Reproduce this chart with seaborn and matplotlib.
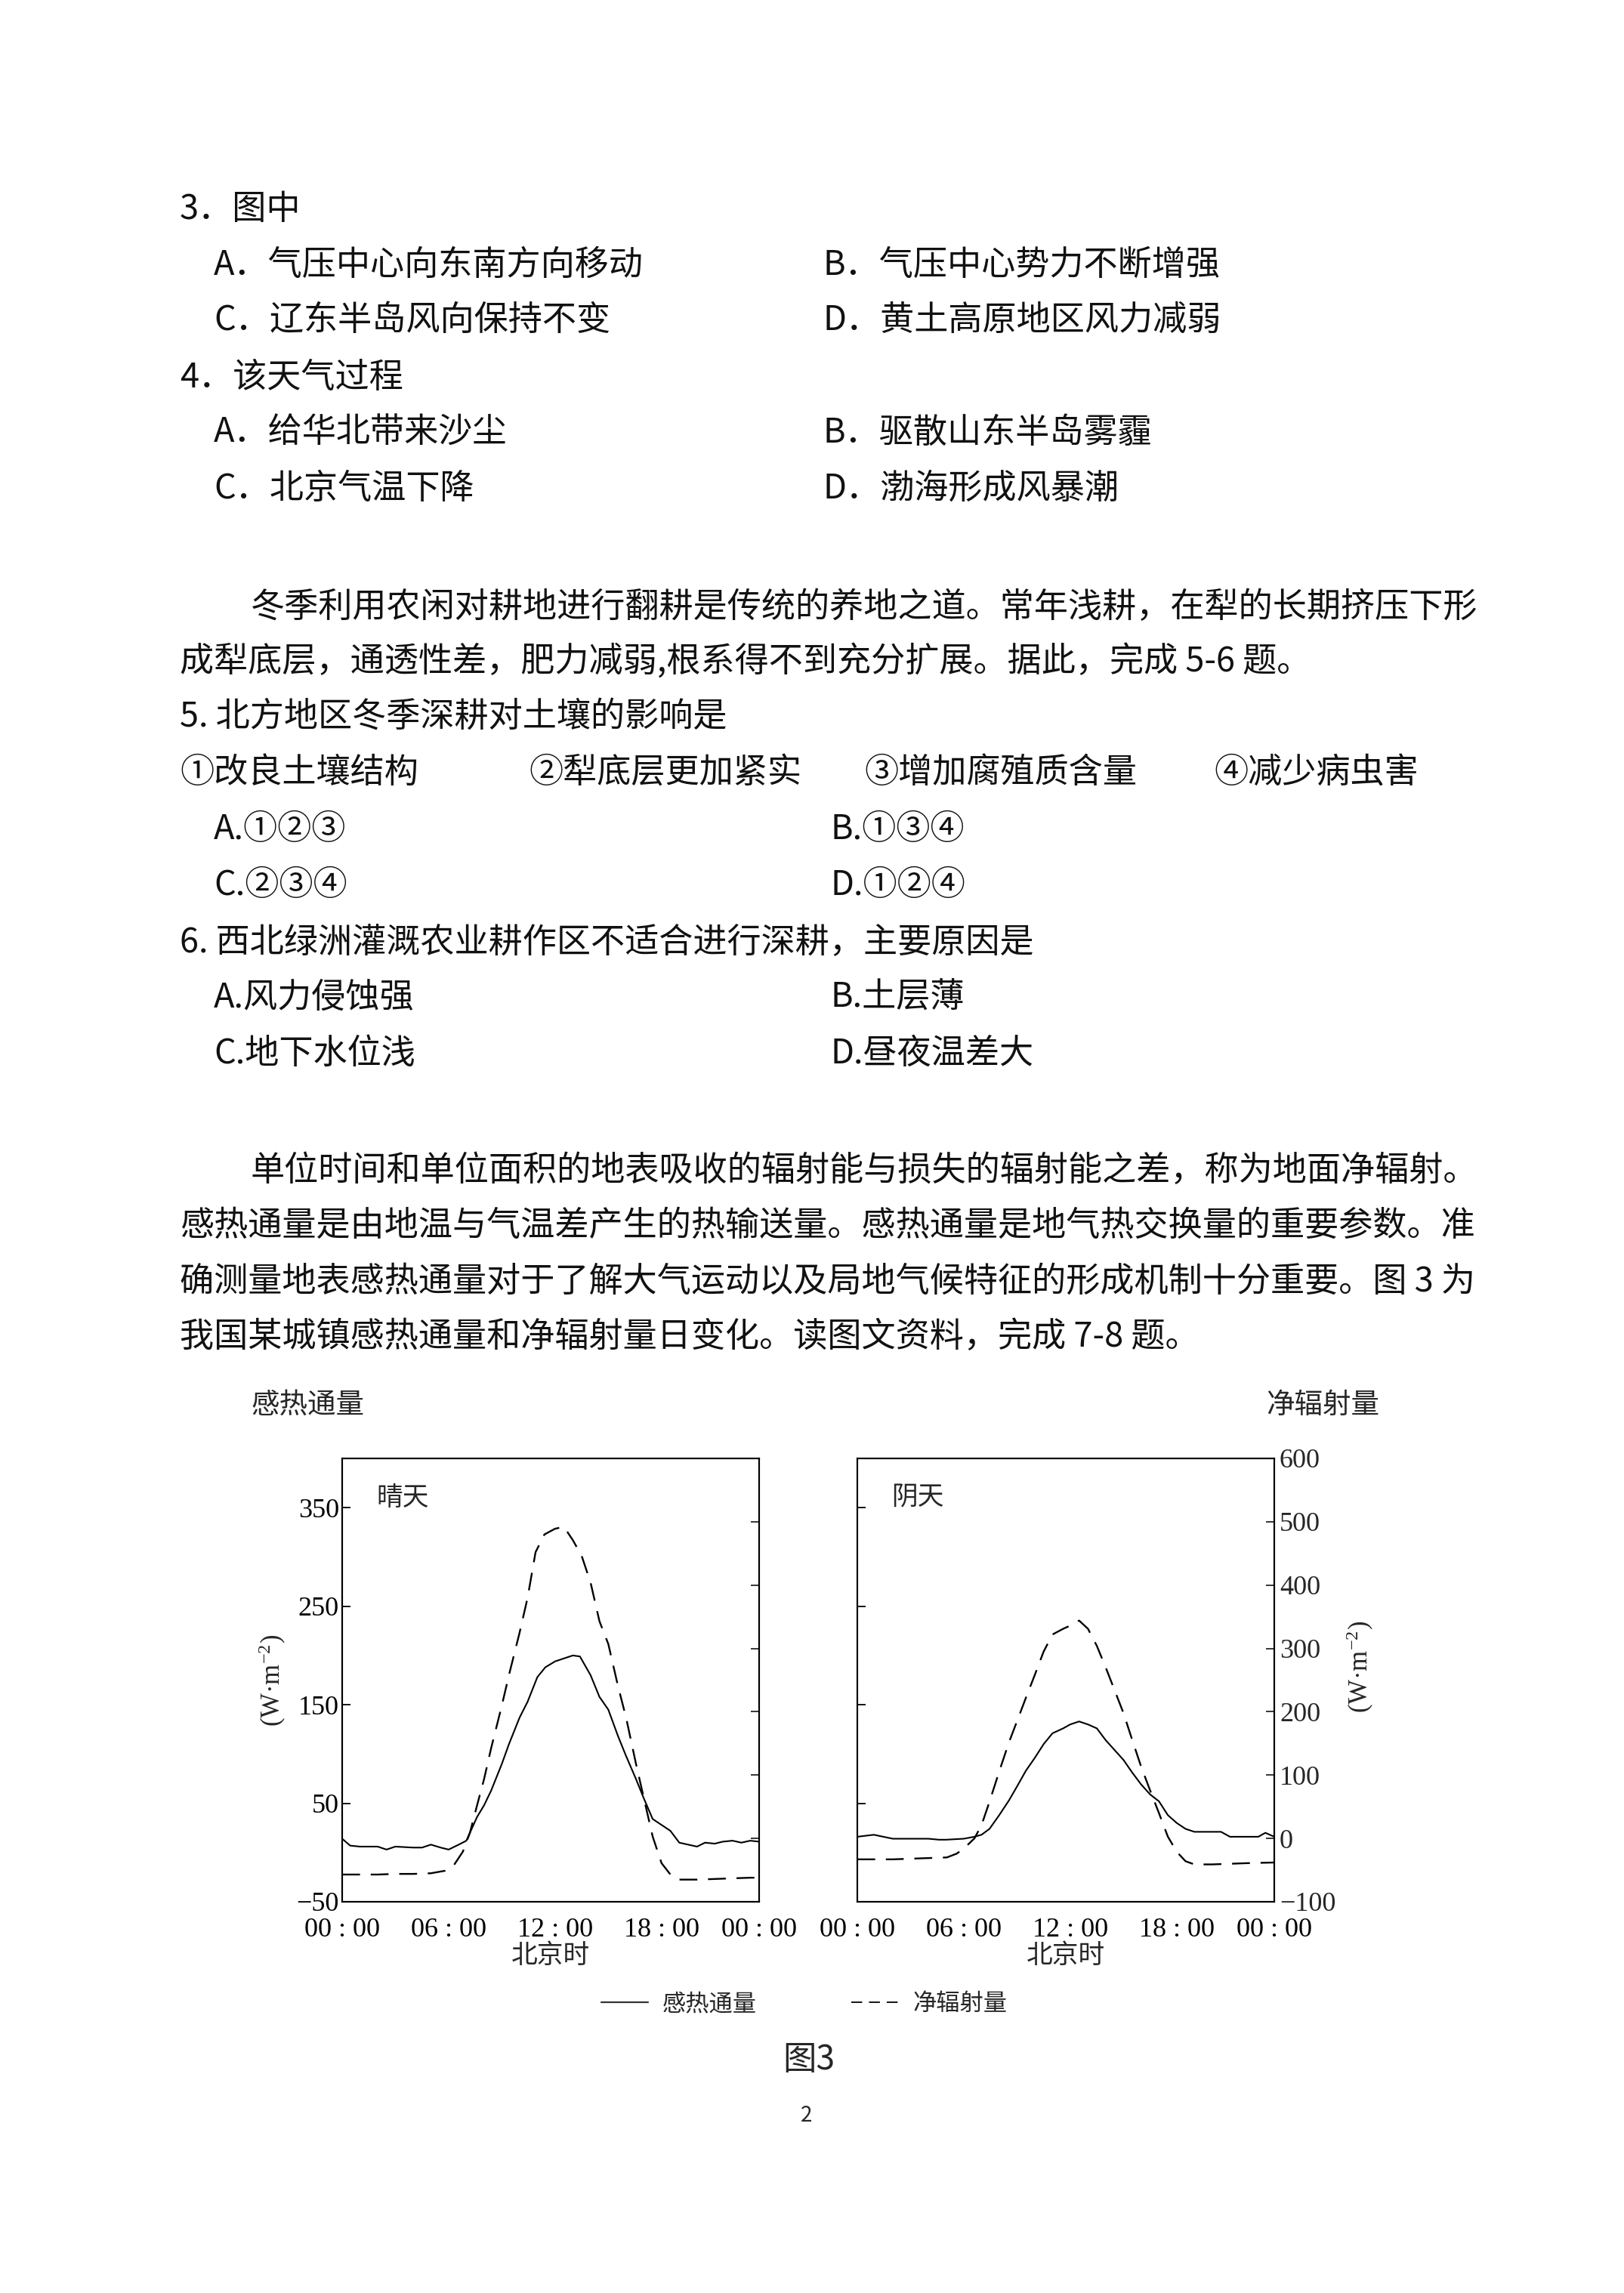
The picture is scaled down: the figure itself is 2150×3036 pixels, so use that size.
import numpy as np
import pandas as pd
import seaborn as sns
import matplotlib.pyplot as plt
from matplotlib.lines import Line2D

# 图3 data: hour of day (北京时) and W·m-2
# 晴天 感热通量 (left scale)
sunny_sh_hour = [0, 0.45, 1, 2, 2.5, 3, 4, 4.5, 5, 5.55, 6, 6.57, 7, 7.6, 8, 8.4, 9, 9.4, 10, 10.45,
                 11, 11.45, 12, 12.5, 13, 13.4, 14, 14.5, 15, 15.55, 16, 16.55, 17, 17.5, 18, 18.5,
                 19, 19.5, 20, 20.45, 21, 21.45, 22, 22.5, 23, 23.5]
sunny_sh = [14, 7, 6, 6, 3, 6, 5, 5, 8, 5, 3, 8, 12, 36, 48, 63, 90, 110, 137, 153,
            178, 188, 194, 197, 200, 199, 180, 158, 145, 118, 98, 75, 55, 34, 28, 22,
            10, 8, 6, 10, 9, 11, 12, 10, 12, 11]
# 晴天 净辐射量 (right scale)
sunny_rn_hour = [0, 1, 2, 3, 4, 5, 5.8, 6.3, 6.8, 7.2, 7.6, 8, 8.4, 9, 9.4, 10, 10.45, 10.9, 11.4, 12,
                 12.5, 13, 13.5, 14, 14.5, 15, 15.55, 16, 16.55, 17, 17.5, 18, 18.5, 19, 20, 21, 22, 23, 23.5]
sunny_rn = [-57, -57, -57, -56, -56, -55, -51, -42, -21, 9, 52, 94, 143, 210, 258, 325, 380, 452, 480, 489,
            492, 471, 446, 404, 343, 307, 240, 191, 119, 64, 3, -39, -57, -65, -65, -64, -63, -62, -62]
# 阴天 感热通量
cloudy_sh_hour = [0, 0.93, 2, 3, 4, 4.6, 5, 6, 6.6, 7, 7.45, 8, 8.55, 9, 9.5, 10, 10.5, 11, 11.6, 12,
                  12.5, 13, 13.5, 14, 14.5, 15, 15.5, 16, 16.5, 17, 17.5, 18, 18.5, 19, 20, 20.5, 21, 22,
                  22.6, 23, 23.5]
cloudy_sh = [16, 18, 14, 14, 14, 13, 13, 14, 16, 18, 24, 38, 53, 67, 83, 96, 110, 121, 126, 130,
             133, 130, 126, 114, 104, 94, 81, 69, 59, 52, 38, 30, 24, 21, 21, 21, 16, 16,
             16, 20, 16]
# 阴天 净辐射量
cloudy_rn_hour = [0, 2, 4, 5.05, 5.6, 6, 6.6, 7, 7.45, 8, 8.55, 9, 9.5, 10, 10.5, 11, 11.6, 12, 12.5, 13,
                  13.5, 14, 14.5, 15, 15.5, 16, 16.5, 17, 17.5, 18, 18.5, 19, 20, 22, 23.5]
cloudy_rn = [-33, -33, -31, -30, -24, -16, 0, 21, 58, 106, 152, 185, 222, 258, 295, 322, 331, 336, 344, 331,
             304, 270, 234, 198, 155, 113, 76, 40, 3, -21, -36, -41, -41, -39, -38]

x_ticks = [0, 6, 12, 18, 23.5]
x_tick_labels = ['00 : 00', '06 : 00', '12 : 00', '18 : 00', '00 : 00']
sh_ticks = [-50, 50, 150, 250, 350]
rn_ticks = [-100, 0, 100, 200, 300, 400, 500, 600]
series_names = ['感热通量', '净辐射量']

# page text (question block around the chart)
page_lines = [
    (238, 277, '3．图中'),
    (283, 351, 'A．气压中心向东南方向移动'), (1089, 351, 'B．气压中心势力不断增强'),
    (283, 424, 'C．辽东半岛风向保持不变'), (1089, 424, 'D．黄土高原地区风力减弱'),
    (238, 500, '4．该天气过程'),
    (283, 573, 'A．给华北带来沙尘'), (1089, 573, 'B．驱散山东半岛雾霾'),
    (283, 647, 'C．北京气温下降'), (1089, 647, 'D．渤海形成风暴潮'),
    (332, 804, '冬季利用农闲对耕地进行翻耕是传统的养地之道。常年浅耕，在犁的长期挤压下形'),
    (238, 876, '成犁底层，通透性差，肥力减弱,根系得不到充分扩展。据此，完成 5-6 题。'),
    (238, 949, '5. 北方地区冬季深耕对土壤的影响是'),
    (238, 1023, '①改良土壤结构'), (700, 1023, '②犁底层更加紧实'),
    (1144, 1023, '③增加腐殖质含量'), (1607, 1023, '④减少病虫害'),
    (283, 1098, 'A.①②③'), (1099, 1098, 'B.①③④'),
    (283, 1172, 'C.②③④'), (1099, 1172, 'D.①②④'),
    (238, 1247, '6. 西北绿洲灌溉农业耕作区不适合进行深耕，主要原因是'),
    (283, 1321, 'A.风力侵蚀强'), (1099, 1321, 'B.土层薄'),
    (283, 1395, 'C.地下水位浅'), (1099, 1395, 'D.昼夜温差大'),
    (332, 1550, '单位时间和单位面积的地表吸收的辐射能与损失的辐射能之差，称为地面净辐射。'),
    (238, 1623, '感热通量是由地温与气温差产生的热输送量。感热通量是地气热交换量的重要参数。准'),
    (238, 1697, '确测量地表感热通量对于了解大气运动以及局地气候特征的形成机制十分重要。图 3 为'),
    (238, 1770, '我国某城镇感热通量和净辐射量日变化。读图文资料，完成 7-8 题。'),
]

sns.set_style('white')
plt.rcParams['font.family'] = ['Noto Sans CJK SC', 'DejaVu Sans']
plt.rcParams['mathtext.fontset'] = 'custom'
plt.rcParams['mathtext.rm'] = 'Liberation Serif'
plt.rcParams['mathtext.it'] = 'Liberation Serif'
plt.rcParams['axes.linewidth'] = 1.5
plt.rcParams['axes.edgecolor'] = 'black'

W, H = 2150, 3036
fig = plt.figure(figsize=(W / 100, H / 100), dpi=100)
fig.patch.set_facecolor('white')

for px, py, s in page_lines:
    fig.text(px / W, 1 - py / H, s, fontsize=32.5, va='center', ha='left', color='#111111')

fig.text(332 / W, 1 - 1860 / H, '感热通量', fontsize=27, va='center', ha='left')
fig.text(1676 / W, 1 - 1860 / H, '净辐射量', fontsize=27, va='center', ha='left')

serif = 'Liberation Serif'
dash = (0, (10, 6))
panels = [
    (453, '晴天', sunny_sh_hour, sunny_sh, sunny_rn_hour, sunny_rn, True),
    (1135, '阴天', cloudy_sh_hour, cloudy_sh, cloudy_rn_hour, cloudy_rn, False),
]
for left_px, title, sh_h, sh_v, rn_h, rn_v, first in panels:
    ax = fig.add_axes([left_px / W, 1 - 2518 / H, 552 / W, 587 / H])
    df_sh = pd.DataFrame({'hour': sh_h, 'flux': sh_v})
    df_rn = pd.DataFrame({'hour': rn_h, 'flux': rn_v})
    sns.lineplot(data=df_sh, x='hour', y='flux', ax=ax, color='black', lw=1.5)
    ax.set_xlim(0, 23.5)
    ax.set_ylim(-50, 400)
    ax.set_xticks(x_ticks)
    ax.set_xticklabels(x_tick_labels)
    ax.set_yticks(sh_ticks)
    ax.tick_params(axis='both', direction='in', length=8, width=1.3, labelsize=26,
                   labelfontfamily=serif, colors='black')
    # a little extra room so the corner labels (-50 / 00:00) do not collide
    ax.tick_params(axis='x', pad=14.8)
    ax.tick_params(axis='y', pad=3, labelleft=first)
    ax.set_xlabel('北京时', fontsize=25, labelpad=0)
    ax.text(0.082, 0.911, title, transform=ax.transAxes, fontsize=25, va='center', ha='left')

    axr = ax.twinx()
    sns.lineplot(data=df_rn, x='hour', y='flux', ax=axr, color='black', lw=1.7, linestyle=dash)
    axr.set_ylim(-100, 600)
    axr.set_yticks(rn_ticks)
    axr.tick_params(axis='y', direction='in', length=8, width=1.3, labelsize=26,
                    labelfontfamily=serif, pad=5, labelright=not first)
    for sp in axr.spines.values():
        sp.set_linewidth(1.5)
    if first:
        ax.set_ylabel('(W·m$^{-2}$)', fontsize=25, family=serif)
        ax.yaxis.set_label_coords(-0.13, 0.5)
        axr.set_ylabel('')
    else:
        ax.set_ylabel('')
        axr.set_ylabel('(W·m$^{-2}$)', fontsize=25, family=serif, rotation=90)
        axr.yaxis.set_label_coords(1.17, 0.53)

# legend keys drawn as in the printed figure (thin solid, short dashes)
legend_keys = [Line2D([], [], color='#333333', lw=1.6),
               Line2D([], [], color='black', lw=1.3, linestyle=(0, (8, 5)))]
fig.legend(handles=legend_keys, labels=series_names, loc='center', bbox_to_anchor=(0.495, 1 - 2653 / H),
           ncol=2, frameon=False, fontsize=22.5, handlelength=2.0, columnspacing=4.0, handletextpad=0.6)

fig.text(1036 / W, 1 - 2727 / H, '图3', fontsize=32, va='center', ha='left')
fig.text(1068 / W, 1 - 2801 / H, '2', fontsize=20, va='center', ha='center')

fig.savefig('out.png', dpi=100, facecolor='white')
